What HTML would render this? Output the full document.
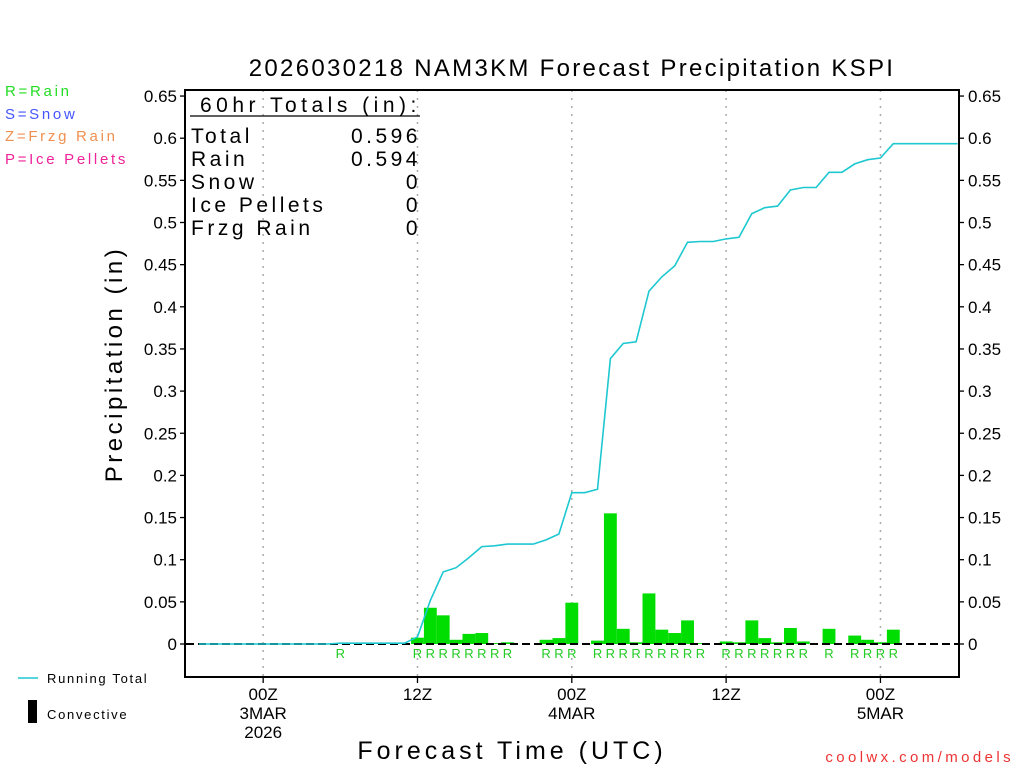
<!DOCTYPE html>
<html><head><meta charset="utf-8">
<style>
html,body{margin:0;padding:0;background:#fff;}
svg{display:block;font-family:"Liberation Sans","DejaVu Sans",sans-serif;}
</style></head>
<body>
<svg id="chart" width="1024" height="768" viewBox="0 0 1024 768" xmlns="http://www.w3.org/2000/svg">
<rect x="0" y="0" width="1024" height="768" fill="#fff"/>
<text x="572" y="76" font-size="24" text-anchor="middle" letter-spacing="2.3">2026030218 NAM3KM Forecast Precipitation KSPI</text>
<g font-size="15" letter-spacing="2.7">
<text x="5" y="96" fill="#22dd22">R=Rain</text>
<text x="5" y="119" fill="#4455ff">S=Snow</text>
<text x="5" y="141" fill="#f09050">Z=Frzg Rain</text>
<text x="5" y="164" fill="#ee2299">P=Ice Pellets</text>
</g>
<g id="grid"></g>
<g id="bars"></g>
<line x1="186" y1="644" x2="959" y2="644" stroke="#000" stroke-width="2" stroke-dasharray="8,4"/>
<polyline id="runline" fill="none" stroke="#1ec8d0" stroke-width="1.6"/>
<g id="rlabels" font-size="13" fill="#22cc22"></g>
<rect x="185" y="90" width="774" height="587" fill="none" stroke="#000" stroke-width="2"/>
<g id="yaxis" font-size="17"></g>
<g id="xaxis" font-size="17" text-anchor="middle"></g>
<g font-size="21" letter-spacing="3.5">
<text x="200" y="112" letter-spacing="4.5">60hr Totals (in):</text>
<line x1="190" y1="116" x2="420" y2="116" stroke="#000" stroke-width="1.3"/>
<text x="191" y="143">Total</text>
<text x="421" y="143" text-anchor="end">0.596</text>
<text x="191" y="166">Rain</text>
<text x="421" y="166" text-anchor="end">0.594</text>
<text x="191" y="189">Snow</text>
<text x="421" y="189" text-anchor="end">0</text>
<text x="191" y="212">Ice Pellets</text>
<text x="421" y="212" text-anchor="end">0</text>
<text x="191" y="235">Frzg Rain</text>
<text x="421" y="235" text-anchor="end">0</text>
</g>
<text transform="translate(122,364) rotate(-90)" font-size="24" text-anchor="middle" letter-spacing="3.5">Precipitation (in)</text>
<text x="512" y="759" font-size="25" text-anchor="middle" letter-spacing="4">Forecast Time (UTC)</text>
<g font-size="13" letter-spacing="1.7">
<line x1="18" y1="678" x2="38" y2="678" stroke="#1ec8d0" stroke-width="1.5"/>
<text x="47" y="683">Running Total</text>
<rect x="28" y="700" width="9" height="23" fill="#000"/>
<text x="47" y="719">Convective</text>
</g>
<text x="1014" y="762" font-size="15" fill="#ee3333" text-anchor="end" letter-spacing="3.4">coolwx.com/models</text>
</svg>
<script>
// hourly precipitation (in), forecast hours
const barHours = [12,18,19,20,21,22,23,24,25,28,29,30,32,33,34,35,36,37,38,39,40,42,43,44,45,46,47,48,50,52,53,54,55];
const barValues = [0.001,0.0075,0.043,0.034,0.005,0.012,0.013,0.001,0.002,0.005,0.007,0.049,0.004,0.155,0.018,0.002,0.060,0.017,0.013,0.028,0.001,0.003,0.002,0.028,0.007,0.002,0.019,0.003,0.018,0.010,0.005,0.002,0.017];
const rainLabelHours = [12,18,19,20,21,22,23,24,25,28,29,30,32,33,34,35,36,37,38,39,40,42,43,44,45,46,47,48,50,52,53,54,55];
const yTicks = [0,0.05,0.1,0.15,0.2,0.25,0.3,0.35,0.4,0.45,0.5,0.55,0.6,0.65];
const yTickLabels = ["0","0.05","0.1","0.15","0.2","0.25","0.3","0.35","0.4","0.45","0.5","0.55","0.6","0.65"];
const xTickHours = [6,18,30,42,54];
const xTickLabels = [["00Z","3MAR","2026"],["12Z"],["00Z","4MAR"],["12Z"],["00Z","5MAR"]];
const lineStart = 1, lineEnd = 60;

const NS = "http://www.w3.org/2000/svg";
function xs(h){ return 186 + h * 12.86; }
function ys(v){ return 644 - v * 843; }
function mk(tag, attrs, parent){ const e = document.createElementNS(NS, tag); for (const k in attrs) e.setAttribute(k, attrs[k]); parent.appendChild(e); return e; }

const grid = document.getElementById('grid');
xTickHours.forEach((h) => {
  const l = mk('line', {x1: xs(h), x2: xs(h), y1: 90, y2: 677, stroke: '#aaa', 'stroke-width': 1.5, 'stroke-dasharray': '2,6'}, grid);
  
  
});

const bars = document.getElementById('bars');
barHours.forEach((h, i) => {
  const v = barValues[i];
  const r = mk('rect', {x: xs(h) - 6.43, y: ys(v), width: 12.86, height: Math.max(0, 644 - ys(v)), fill: '#00dd00'}, bars);
  
  
});

const hourly = {};
barHours.forEach((h, i) => { hourly[h] = barValues[i]; });
let cum = 0; const pts = [];
for (let h = lineStart; h <= lineEnd; h++) { cum += hourly[h] || 0; pts.push(xs(h).toFixed(1) + ',' + ys(cum).toFixed(1)); }
document.getElementById('runline').setAttribute('points', pts.join(' '));

const rl = document.getElementById('rlabels');
rainLabelHours.forEach((h) => {
  const t = mk('text', {x: xs(h), y: 658, 'text-anchor': 'middle'}, rl);
  t.textContent = 'R';
  
  
});

const ya = document.getElementById('yaxis');
yTicks.forEach((v, i) => {
  const y = ys(v);
  const t1 = mk('line', {x1: 180, x2: 185, y1: y, y2: y, stroke: '#000', 'stroke-width': 1.3}, ya);
  
  
  const t2 = mk('line', {x1: 959, x2: 964, y1: y, y2: y, stroke: '#000', 'stroke-width': 1.3}, ya);
  
  
  const a = mk('text', {x: 177, y: y + 6, 'text-anchor': 'end'}, ya);
  a.textContent = yTickLabels[i];
  
  
  const b = mk('text', {x: 968, y: y + 6}, ya);
  b.textContent = yTickLabels[i];
  
  
});

const xa = document.getElementById('xaxis');
xTickHours.forEach((h, i) => {
  const x = xs(h);
  const tk = mk('line', {x1: x, x2: x, y1: 677, y2: 683, stroke: '#000', 'stroke-width': 1.3}, xa);
  
  
  xTickLabels[i].forEach((s, j) => {
    const t = mk('text', {x: x, y: 700 + j * 19}, xa);
    t.textContent = s;
    
    
  });
});
</script>
</body></html>
